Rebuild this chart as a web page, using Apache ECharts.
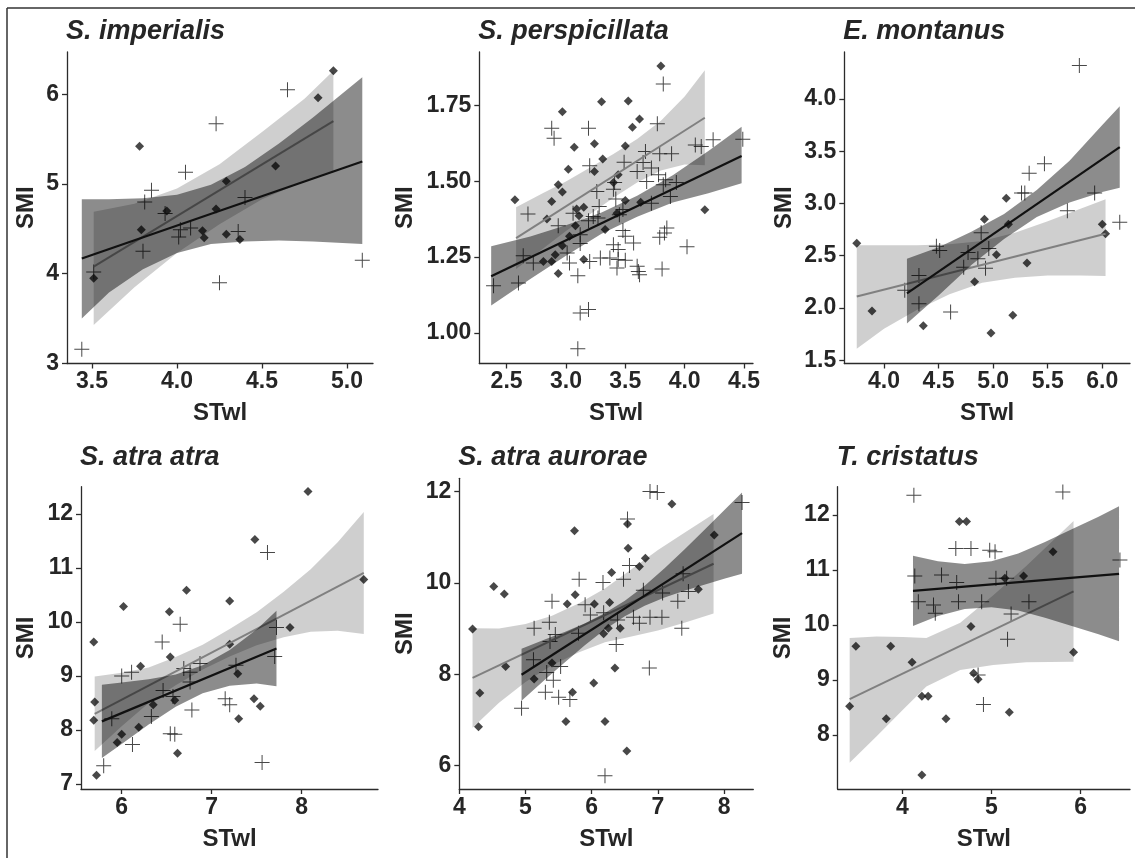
<!DOCTYPE html>
<html>
<head>
<meta charset="utf-8">
<script src="https://cdn.jsdelivr.net/npm/echarts@6/dist/echarts.min.js"></script>
<style>
  html, body { margin: 0; padding: 0; background: #fff; }
  #chart { width: 1135px; height: 858px; }
</style>
</head>
<body>
<div id="chart"></div>
<script>
// ---- S. imperialis ----
let p1Diamonds = [[4.92,6.26],[4.83,5.96],[3.78,5.42],[4.58,5.20],[4.29,5.03],[3.94,4.70],[4.23,4.72],[3.79,4.49],[4.15,4.48],[4.16,4.40],[4.29,4.44],[4.37,4.38],[3.51,3.95]];
let p1Crosses  = [[4.65,6.05],[4.23,5.67],[4.05,5.13],[3.85,4.93],[3.81,4.80],[4.40,4.85],[3.93,4.67],[4.02,4.49],[4.08,4.51],[4.01,4.41],[4.36,4.47],[3.80,4.25],[3.51,4.02],[4.25,3.90],[5.09,4.15],[3.44,3.16]];
let p1GrayLine  = [[3.51,4.08],[4.92,5.70]];
let p1LightX  = [3.51,3.75,4.0,4.25,4.5,4.75,4.92];
let p1LightLo = [3.43,3.85,4.23,4.55,4.83,5.03,5.13];
let p1LightHi = [4.69,4.78,4.95,5.22,5.58,5.95,6.26];
let p1BlackLine = [[3.44,4.17],[5.09,5.25]];
let p1DarkX  = [3.44,3.6,3.8,4.0,4.2,4.4,4.6,4.8,5.09];
let p1DarkLo = [3.50,3.79,4.05,4.23,4.33,4.36,4.37,4.36,4.33];
let p1DarkHi = [4.83,4.83,4.84,4.88,4.99,5.19,5.45,5.74,6.19];
let p1XTicks = [3.5,4.0,4.5,5.0];
let p1YTicks = [3,4,5,6];

// ---- S. perspicillata ----
let p2Diamonds = [[3.80,1.881],[3.30,1.763],[3.525,1.765],[2.97,1.730],[3.62,1.706],[3.56,1.679],[3.07,1.613],[3.24,1.624],[3.50,1.617],[3.31,1.574],[3.02,1.540],[3.24,1.533],[2.935,1.489],[2.97,1.465],[2.57,1.439],[2.88,1.434],[3.50,1.437],[4.17,1.406],[3.15,1.415],[3.09,1.409],[3.11,1.387],[3.63,1.431],[3.08,1.354],[3.33,1.341],[2.84,1.376],[2.97,1.288],[2.91,1.258],[2.81,1.236],[2.88,1.236],[3.15,1.242],[2.935,1.196],[3.43,1.395],[3.44,1.522],[3.40,1.496],[3.03,1.319]];
let p2Crosses  = [[3.82,1.821],[2.88,1.675],[2.90,1.642],[3.19,1.675],[3.77,1.690],[4.24,1.637],[4.49,1.639],[4.09,1.620],[4.14,1.615],[3.67,1.599],[3.79,1.591],[3.89,1.591],[3.49,1.563],[3.65,1.562],[3.20,1.552],[3.60,1.533],[3.72,1.544],[3.78,1.522],[3.84,1.505],[3.68,1.500],[3.82,1.489],[3.93,1.496],[3.41,1.496],[3.40,1.474],[3.26,1.467],[3.88,1.450],[3.72,1.428],[3.42,1.442],[3.28,1.417],[3.48,1.407],[3.06,1.395],[3.23,1.384],[2.68,1.392],[3.45,1.390],[3.19,1.370],[3.27,1.379],[2.935,1.354],[3.85,1.346],[3.83,1.330],[3.79,1.316],[3.48,1.338],[3.50,1.319],[3.12,1.295],[3.40,1.291],[3.57,1.297],[4.02,1.284],[3.44,1.275],[2.64,1.255],[2.725,1.231],[3.01,1.264],[3.03,1.231],[3.20,1.236],[3.29,1.247],[3.37,1.247],[3.44,1.242],[3.50,1.240],[3.43,1.214],[3.60,1.220],[3.61,1.203],[3.62,1.192],[3.81,1.211],[2.60,1.165],[2.39,1.156],[3.10,1.189],[3.12,1.066],[3.19,1.077],[3.10,0.948],[3.12,1.324]];
let p2GrayLine  = [[2.58,1.313],[4.17,1.71]];
let p2LightX  = [2.58,2.8,3.0,3.2,3.4,3.6,3.8,4.0,4.17];
let p2LightLo = [1.211,1.276,1.336,1.391,1.446,1.496,1.536,1.556,1.553];
let p2LightHi = [1.415,1.46,1.50,1.545,1.59,1.64,1.70,1.78,1.867];
let p2BlackLine = [[2.37,1.187],[4.48,1.584]];
let p2DarkX  = [2.37,2.7,3.0,3.3,3.6,3.9,4.2,4.48];
let p2DarkLo = [1.09,1.178,1.255,1.327,1.383,1.43,1.461,1.494];
let p2DarkHi = [1.286,1.318,1.355,1.397,1.453,1.52,1.60,1.68];
let p2XTicks = [2.5,3.0,3.5,4.0,4.5];
let p2YTicks = [1.00,1.25,1.50,1.75];

// ---- E. montanus ----
let p3Diamonds = [[3.75,2.62],[3.89,1.97],[4.36,1.83],[4.83,2.25],[4.92,2.85],[5.12,3.05],[5.14,2.80],[5.03,2.51],[5.31,2.43],[5.18,1.93],[4.98,1.76],[6.0,2.80],[6.03,2.71]];
let p3Crosses  = [[5.79,4.32],[5.47,3.38],[5.33,3.29],[5.26,3.10],[5.29,3.10],[5.93,3.10],[5.68,2.93],[6.16,2.82],[4.89,2.72],[4.48,2.59],[4.51,2.55],[4.96,2.57],[4.77,2.53],[4.86,2.47],[4.73,2.39],[4.93,2.38],[4.32,2.31],[4.19,2.17],[4.32,2.04],[4.61,1.96]];
let p3GrayLine  = [[3.75,2.11],[6.03,2.71]];
let p3LightX  = [3.75,4.0,4.3,4.6,4.9,5.2,5.5,5.8,6.03];
let p3LightLo = [1.61,1.80,1.98,2.13,2.24,2.29,2.31,2.31,2.305];
let p3LightHi = [2.60,2.60,2.60,2.61,2.64,2.72,2.83,2.95,3.04];
let p3BlackLine = [[4.21,2.14],[6.16,3.54]];
let p3DarkX  = [4.21,4.5,4.8,5.1,5.4,5.7,6.0,6.16];
let p3DarkLo = [1.85,2.12,2.41,2.66,2.87,3.01,3.11,3.15];
let p3DarkHi = [2.47,2.58,2.73,2.90,3.13,3.41,3.75,3.93];
let p3XTicks = [4.0,4.5,5.0,5.5,6.0];
let p3YTicks = [1.5,2.0,2.5,3.0,3.5,4.0];

// ---- S. atra atra ----
let p4Diamonds = [[8.07,12.42],[7.48,11.53],[6.72,10.59],[7.20,10.39],[6.02,10.29],[6.53,10.19],[5.69,9.63],[6.54,9.35],[7.20,9.59],[6.21,9.18],[8.69,10.79],[7.87,9.90],[7.29,9.04],[5.70,8.52],[6.35,8.47],[6.59,8.55],[7.47,8.58],[7.54,8.44],[5.69,8.18],[6.19,8.05],[6.0,7.92],[5.95,7.77],[7.30,8.21],[6.62,7.57],[5.72,7.16]];
let p4Crosses  = [[7.62,11.29],[6.65,9.96],[6.45,9.63],[7.72,9.90],[7.70,9.36],[6.0,9.0],[6.11,9.07],[6.76,9.07],[6.87,9.23],[7.27,9.20],[6.46,8.73],[6.57,8.62],[6.76,8.89],[6.78,8.37],[7.15,8.58],[7.20,8.47],[6.33,8.25],[5.89,8.21],[6.54,7.93],[6.59,7.92],[6.12,7.73],[5.80,7.34],[7.56,7.40],[6.69,9.14]];
let p4GrayLine  = [[5.70,8.30],[8.69,10.91]];
let p4LightX  = [5.70,6.0,6.3,6.6,6.9,7.2,7.5,7.8,8.1,8.4,8.69];
let p4LightLo = [7.61,8.07,8.50,8.83,9.12,9.36,9.57,9.72,9.82,9.84,9.78];
let p4LightHi = [8.99,9.06,9.16,9.35,9.58,9.87,10.18,10.56,10.98,11.48,12.04];
let p4BlackLine = [[5.78,8.16],[7.72,9.51]];
let p4DarkX  = [5.78,6.0,6.3,6.6,6.9,7.2,7.5,7.72];
let p4DarkLo = [7.48,7.74,8.10,8.43,8.68,8.82,8.86,8.81];
let p4DarkHi = [8.84,8.88,8.94,9.03,9.20,9.48,9.86,10.21];
let p4XTicks = [6,7,8];
let p4YTicks = [7,8,9,10,11,12];

// ---- S. atra aurorae ----
let p5Diamonds = [[7.21,11.73],[5.74,11.14],[6.54,11.29],[6.55,10.76],[6.81,10.54],[6.72,10.36],[7.85,11.05],[6.30,10.23],[4.52,9.92],[4.68,9.76],[5.75,9.74],[5.63,9.54],[6.04,9.54],[6.27,9.57],[7.61,9.86],[4.20,8.99],[6.43,9.01],[6.25,9.01],[6.18,8.89],[4.70,8.17],[5.40,8.25],[6.35,8.14],[5.13,7.90],[4.31,7.59],[5.71,7.61],[6.03,7.81],[4.29,6.85],[5.61,6.97],[6.20,6.97],[6.53,6.32]];
let p5Crosses  = [[6.88,12.0],[6.99,11.98],[8.27,11.76],[6.54,11.40],[6.57,10.38],[5.81,10.08],[6.17,10.01],[6.48,10.08],[5.40,9.60],[5.90,9.52],[5.98,9.30],[6.78,9.84],[7.07,9.78],[7.46,9.81],[7.30,9.60],[7.38,10.20],[5.36,9.14],[5.13,9.01],[5.45,8.87],[5.80,8.90],[5.37,8.72],[6.18,9.35],[6.39,9.19],[6.63,9.25],[6.72,9.12],[6.88,9.25],[7.06,9.25],[7.36,9.01],[6.37,8.65],[6.87,8.14],[5.12,8.32],[5.32,8.04],[5.53,8.17],[5.42,7.87],[5.30,7.61],[5.50,7.50],[5.67,7.45],[4.94,7.26],[6.20,5.78]];
let p5GrayLine  = [[4.20,7.92],[7.84,10.42]];
let p5LightX  = [4.20,4.6,5.0,5.4,5.8,6.2,6.6,7.0,7.4,7.84];
let p5LightLo = [6.83,7.38,7.83,8.20,8.48,8.70,8.83,8.96,9.13,9.33];
let p5LightHi = [9.01,9.00,9.10,9.28,9.55,9.88,10.30,10.72,11.10,11.51];
let p5BlackLine = [[4.94,7.99],[8.27,11.09]];
let p5DarkX  = [4.94,5.3,5.6,5.9,6.2,6.5,6.8,7.1,7.4,7.7,8.0,8.27];
let p5DarkLo = [7.42,7.89,8.27,8.64,8.98,9.27,9.50,9.68,9.83,9.96,10.09,10.20];
let p5DarkHi = [8.56,8.77,8.93,9.12,9.34,9.61,9.94,10.32,10.73,11.16,11.59,11.98];
let p5XTicks = [4,5,6,7,8];
let p5YTicks = [6,8,10,12];

// ---- T. cristatus ----
let p6Diamonds = [[4.64,11.88],[4.72,11.88],[5.69,11.33],[5.36,10.89],[5.15,10.85],[4.77,9.97],[3.48,9.61],[3.87,9.61],[4.11,9.32],[5.92,9.50],[4.80,9.12],[4.85,9.01],[4.22,8.70],[4.29,8.70],[3.41,8.52],[3.82,8.29],[4.49,8.29],[5.20,8.41],[4.22,7.27]];
let p6Crosses  = [[4.13,12.36],[5.80,12.42],[6.44,11.18],[4.60,11.39],[4.77,11.39],[4.98,11.36],[5.04,11.33],[4.14,10.89],[4.44,10.91],[4.61,10.77],[5.05,10.85],[5.17,10.85],[4.18,10.42],[4.63,10.42],[4.89,10.42],[5.42,10.42],[4.35,10.36],[4.37,10.21],[5.22,10.20],[5.18,9.74],[4.85,9.09],[4.91,8.55]];
let p6GrayLine  = [[3.41,8.65],[5.92,10.61]];
let p6LightX  = [3.41,3.71,4.01,4.27,4.65,5.02,5.39,5.92];
let p6LightLo = [7.49,7.97,8.46,8.88,9.18,9.27,9.32,9.33];
let p6LightHi = [9.76,9.79,9.78,9.76,10.04,10.54,11.07,11.89];
let p6BlackLine = [[4.12,10.62],[6.43,10.93]];
let p6DarkX  = [4.12,4.4,4.7,5.0,5.3,5.6,5.9,6.2,6.43];
let p6DarkLo = [9.98,10.16,10.29,10.32,10.26,10.13,9.98,9.83,9.70];
let p6DarkHi = [11.26,11.16,11.11,11.16,11.30,11.51,11.74,11.97,12.16];
let p6XTicks = [4,5,6];
let p6YTicks = [8,9,10,11,12];

let titles = ['S. imperialis','S. perspicillata','E. montanus','S. atra atra','S. atra aurorae','T. cristatus'];

// layout of each panel (pixels) and axis ranges
let panels = [
    {grid:[67,52,306,311.5],    xr:[3.353,5.153], yr:[3.0,6.47],    xd:1, yd:0, nameGap:29,
     dia:p1Diamonds, cro:p1Crosses, gl:p1GrayLine, bl:p1BlackLine, lx:p1LightX, llo:p1LightLo, lhi:p1LightHi, dx:p1DarkX, dlo:p1DarkLo, dhi:p1DarkHi, xt:p1XTicks, yt:p1YTicks},
    {grid:[479.3,52,273.7,311.5], xr:[2.27,4.576], yr:[0.899,1.927], xd:1, yd:2, nameGap:62,
     dia:p2Diamonds, cro:p2Crosses, gl:p2GrayLine, bl:p2BlackLine, lx:p2LightX, llo:p2LightLo, lhi:p2LightHi, dx:p2DarkX, dlo:p2DarkLo, dhi:p2DarkHi, xt:p2XTicks, yt:p2YTicks},
    {grid:[844.3,52,285.7,311.5], xr:[3.636,6.254], yr:[1.468,4.45], xd:1, yd:1, nameGap:48,
     dia:p3Diamonds, cro:p3Crosses, gl:p3GrayLine, bl:p3BlackLine, lx:p3LightX, llo:p3LightLo, lhi:p3LightHi, dx:p3DarkX, dlo:p3DarkLo, dhi:p3DarkHi, xt:p3XTicks, yt:p3YTicks},
    {grid:[81,486.7,297,302.3],   xr:[5.548,8.848], yr:[6.907,12.507], xd:0, yd:0, nameGap:43,
     dia:p4Diamonds, cro:p4Crosses, gl:p4GrayLine, bl:p4BlackLine, lx:p4LightX, llo:p4LightLo, lhi:p4LightHi, dx:p4DarkX, dlo:p4DarkLo, dhi:p4DarkHi, xt:p4XTicks, yt:p4YTicks},
    {grid:[459.3,478.3,294,310.7], xr:[4.0,8.44], yr:[5.49,12.29], xd:0, yd:0, nameGap:42,
     dia:p5Diamonds, cro:p5Crosses, gl:p5GrayLine, bl:p5BlackLine, lx:p5LightX, llo:p5LightLo, lhi:p5LightHi, dx:p5DarkX, dlo:p5DarkLo, dhi:p5DarkHi, xt:p5XTicks, yt:p5YTicks},
    {grid:[837.7,486.7,292.3,302.3], xr:[3.276,6.553], yr:[7.013,12.515], xd:0, yd:0, nameGap:42,
     dia:p6Diamonds, cro:p6Crosses, gl:p6GrayLine, bl:p6BlackLine, lx:p6LightX, llo:p6LightLo, lhi:p6LightHi, dx:p6DarkX, dlo:p6DarkLo, dhi:p6DarkHi, xt:p6XTicks, yt:p6YTicks}
];

let FONT = "'Liberation Sans', Arial, sans-serif";
let TXT  = '#262626';
let CROSS = 'path://M0 7H15V8H0Z M7 0H8V15H7Z';

function bandSeries(i, xs, lo, hi, fill, z){
    let data = [];
    for(let k = 0; k < xs.length; k++){
        data.push([xs[k], lo[k], hi[k]]);
    }
    return {
        type: 'custom', xAxisIndex: i, yAxisIndex: i, z: z, silent: true,
        data: data,
        renderItem: function(params, api){
            if(params.dataIndex !== 0) return null;
            let pts = [];
            for(let k = 0; k < xs.length; k++) pts.push(api.coord([xs[k], lo[k]]));
            for(let k = xs.length - 1; k >= 0; k--) pts.push(api.coord([xs[k], hi[k]]));
            return {type: 'polygon', shape: {points: pts}, style: {fill: fill}};
        }
    };
}

function axisCommon(){
    return {
        axisLine: {show: true, onZero: false, lineStyle: {color: '#2b2b2b', width: 1.3}},
        axisTick: {show: true, length: 5, lineStyle: {color: '#2b2b2b', width: 1.3}},
        splitLine: {show: false},
        nameTextStyle: {fontFamily: FONT, fontWeight: 'bold', fontSize: 24, color: TXT}
    };
}

let grids = [], xAxes = [], yAxes = [], series = [], titleList = [];

for(let i = 0; i < panels.length; i++){
    let p = panels[i];
    grids.push({left: p.grid[0], top: p.grid[1], width: p.grid[2], height: p.grid[3],
                containLabel: false, outerBoundsMode: 'none'});

    titleList.push({
        text: titles[i], left: p.grid[0] - 1, top: i < 3 ? 18 : 444, padding: 0,
        textStyle: {fontFamily: FONT, fontStyle: 'italic', fontWeight: 'bold', fontSize: 27, color: TXT}
    });

    let xa = axisCommon();
    xa.type = 'value'; xa.gridIndex = i;
    xa.min = p.xr[0]; xa.max = p.xr[1];
    xa.name = 'STwl'; xa.nameLocation = 'middle'; xa.nameGap = 38;
    xa.axisTick.customValues = p.xt;
    xa.axisLabel = {customValues: p.xt, margin: 7, fontFamily: FONT, fontWeight: 'bold', fontSize: 23, color: TXT,
        formatter: (function(d){ return function(v){ return Number(v).toFixed(d); }; })(p.xd)};
    xAxes.push(xa);

    let ya = axisCommon();
    ya.type = 'value'; ya.gridIndex = i;
    ya.min = p.yr[0]; ya.max = p.yr[1];
    ya.name = 'SMI'; ya.nameLocation = 'middle'; ya.nameGap = p.nameGap; ya.nameRotate = 90;
    ya.axisTick.customValues = p.yt;
    ya.axisLabel = {customValues: p.yt, margin: 8, fontFamily: FONT, fontWeight: 'bold', fontSize: 23, color: TXT,
        formatter: (function(d){ return function(v){ return Number(v).toFixed(d); }; })(p.yd)};
    yAxes.push(ya);

    series.push({type: 'scatter', xAxisIndex: i, yAxisIndex: i, z: 1, silent: true,
                 data: p.dia, symbol: 'diamond', symbolSize: 9, itemStyle: {color: '#1a1a1a'}});
    series.push({type: 'scatter', xAxisIndex: i, yAxisIndex: i, z: 1, silent: true,
                 data: p.cro, symbol: CROSS, symbolSize: 15, itemStyle: {color: '#1a1a1a'}});
    series.push(bandSeries(i, p.lx, p.llo, p.lhi, 'rgba(0,0,0,0.19)', 2));
    series.push({type: 'line', xAxisIndex: i, yAxisIndex: i, z: 3, silent: true, showSymbol: false,
                 data: p.gl, lineStyle: {color: '#808080', width: 2}});
    series.push(bandSeries(i, p.dx, p.dlo, p.dhi, 'rgba(0,0,0,0.45)', 4));
    series.push({type: 'line', xAxisIndex: i, yAxisIndex: i, z: 5, silent: true, showSymbol: false,
                 data: p.bl, lineStyle: {color: '#111', width: 2.2}});
}

let chart = echarts.init(document.getElementById('chart'));
chart.setOption({
    animation: false,
    backgroundColor: '#fff',
    title: titleList,
    grid: grids,
    xAxis: xAxes,
    yAxis: yAxes,
    series: series,
    graphic: [
        {type: 'line', shape: {x1: 7, y1: 8, x2: 1135, y2: 8}, style: {stroke: '#333', lineWidth: 1.5}},
        {type: 'line', shape: {x1: 7, y1: 8, x2: 7, y2: 858}, style: {stroke: '#333', lineWidth: 1.5}}
    ]
});
</script>
</body>
</html>
